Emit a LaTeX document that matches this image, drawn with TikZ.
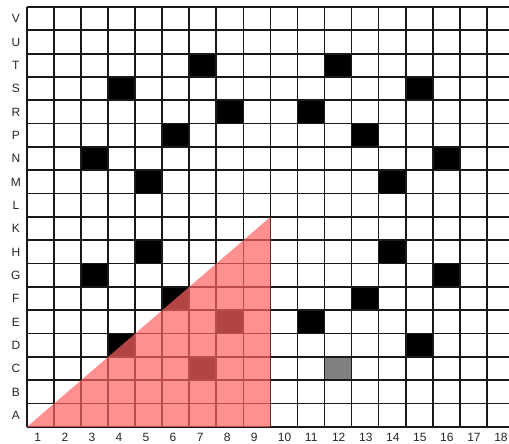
\documentclass[tikz,border=0pt]{standalone}
\usepackage{fontspec}
\setmainfont{Liberation Sans}
\definecolor{tri}{RGB}{255,98,98}
\begin{document}
\begin{tikzpicture}[x=27.05pt,y=23.33pt,
  gridline/.style={line width=1.7pt, black!90},
  blk/.style={fill=black},
  dither/.style={fill=black!50},
  wedge/.style={fill=tri, opacity=0.7},
  lbl/.style={font=\fontsize{12}{12}\selectfont, text=black!85, inner sep=0pt}]
\useasboundingbox (-0.998,-0.729) rectangle (17.82,18.30);
\fill[white] (-0.998,-0.729) rectangle (17.82,18.30);
\begin{scope}
\clip (-0.998,-0.729) rectangle (17.82,18.30);
% black cells (column, row)
\foreach \c/\r in {7/16,12/16,4/15,15/15,8/14,11/14,6/13,13/13,3/12,16/12,5/11,14/11,
                   5/8,14/8,3/7,16/7,6/6,13/6,8/5,11/5,4/4,15/4,7/3}
  \fill[blk] (\c-1,\r-1) rectangle (\c,\r);
\fill[dither] (11,2) rectangle (12,3);
\foreach \i in {0,...,18} {
  \draw[gridline] (\i,0) -- (\i,18);
  \draw[gridline] (0,\i) -- (18,\i);
}
\fill[wedge] (0,0) -- (9,0) -- (9,9) -- cycle;
\end{scope}
% row labels
\foreach \l [count=\i] in {A,B,C,D,E,F,G,H,K,L,M,N,P,R,S,T,U,V}
  \node[lbl] (row\i) at (-0.41,\i-0.5) {\l};
% column labels
\foreach \i in {1,...,18}
  \node[lbl, anchor=west] (col\i) at (\i-0.73,-0.43) {\i};
\end{tikzpicture}
\end{document}
